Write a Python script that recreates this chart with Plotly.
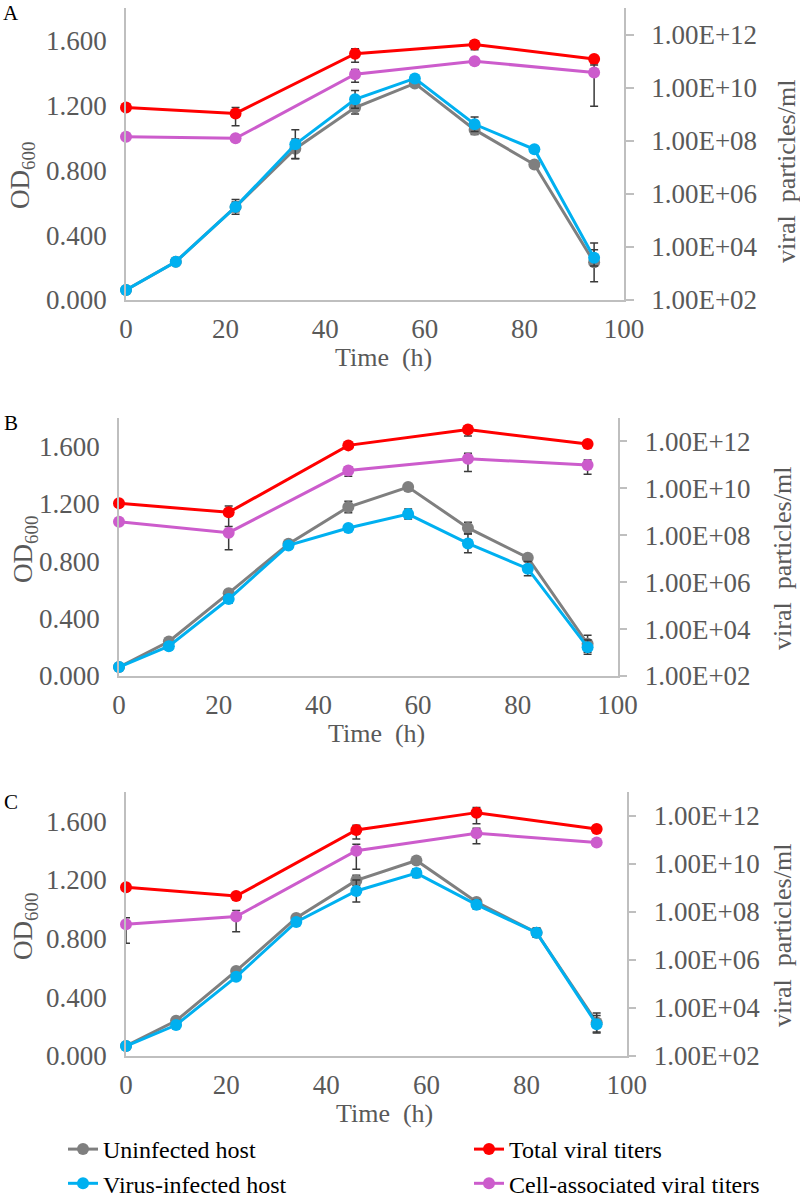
import plotly.graph_objects as go

W, H = 800, 1200
FONT = "Liberation Serif"
GREY_TXT = "#595959"
AXIS_LINE = "#bfbfbf"

# sampling times (h)
time_od = [0, 10, 22, 34, 46, 58, 70, 82, 94]
time_titer = [0, 22, 46, 70, 94]

# ---- panel A ----
a_uninfected = [0.062, 0.236, 0.574, 0.933, 1.186, 1.335, 1.050, 0.835, 0.232]
a_uninfected_sd = [0.005, 0.010, 0.030, 0.060, 0.040, 0.015, 0.030, 0.020, 0.120]
a_infected = [0.062, 0.236, 0.574, 0.960, 1.237, 1.366, 1.083, 0.929, 0.260]
a_infected_sd = [0.005, 0.010, 0.045, 0.090, 0.055, 0.015, 0.045, 0.010, 0.050]
a_total = [1.8e9, 1.07e9, 1.9e11, 4.2e11, 1.2e11]
a_total_sd = [1e8, 7e8, 1e11, 1.5e11, 2e10]
a_cell = [1.4e8, 1.23e8, 3.2e10, 9.9e10, 3.7e10]
a_cell_sd = [1e7, 1e7, 1.6e10, 2.5e10, 3.5e10]

# ---- panel B ----
b_uninfected = [0.062, 0.241, 0.578, 0.922, 1.179, 1.318, 1.033, 0.825, 0.225]
b_uninfected_sd = [0.005, 0.010, 0.020, 0.020, 0.040, 0.010, 0.040, 0.020, 0.060]
b_infected = [0.062, 0.208, 0.537, 0.911, 1.033, 1.130, 0.925, 0.749, 0.201]
b_infected_sd = [0.005, 0.010, 0.030, 0.020, 0.010, 0.035, 0.065, 0.050, 0.050]
b_total = [2.3e9, 9.5e8, 6.8e11, 3.2e12, 7.8e11]
b_total_sd = [1e8, 8e8, 1e11, 1.5e12, 1e11]
b_cell = [3.8e8, 1.29e8, 5.75e10, 1.82e11, 1.0e11]
b_cell_sd = [1e7, 1.05e8, 2.5e10, 1.3e11, 6e10]

# ---- panel C ----
c_uninfected = [0.068, 0.240, 0.580, 0.941, 1.197, 1.333, 1.050, 0.841, 0.229]
c_uninfected_sd = [0.005, 0.010, 0.020, 0.020, 0.035, 0.010, 0.020, 0.030, 0.065]
c_infected = [0.068, 0.211, 0.540, 0.914, 1.125, 1.247, 1.032, 0.841, 0.216]
c_infected_sd = [0.005, 0.010, 0.020, 0.020, 0.075, 0.030, 0.030, 0.030, 0.060]
c_total = [1.07e9, 4.6e8, 2.6e11, 1.38e12, 2.9e11]
c_total_sd = [5e7, 3e7, 1.5e11, 9e11, 3e10]
c_cell = [3.1e7, 6.5e7, 3.6e10, 1.9e11, 7.9e10]
c_cell_sd = [2.6e7, 5e7, 3e10, 1.2e11, 2e10]

# axis ticks
od_ticks = [0, 0.4, 0.8, 1.2, 1.6]
titer_ticks = [1e2, 1e4, 1e6, 1e8, 1e10, 1e12]
titer_labels = ["1.00E+02", "1.00E+04", "1.00E+06", "1.00E+08", "1.00E+10", "1.00E+12"]
time_ticks = [0, 20, 40, 60, 80, 100]

series_names = ["Uninfected host", "Virus-infected host", "Total viral titers",
                "Cell-associated viral titers"]
series_colors = ["#7f7f7f", "#00b0f0", "#ff0000", "#cc5ccc"]

# plot areas in page pixels: left, right, top, bottom (+ label positions)
panels = [
    dict(letter="A", box=(126, 624, 8, 300), od_lbl=(22, 176), vp_lbl=(787, 172), letter_y=13,
         data=[(a_uninfected, a_uninfected_sd), (a_infected, a_infected_sd),
               (a_total, a_total_sd), (a_cell, a_cell_sd)]),
    dict(letter="B", box=(119, 617.5, 418, 676), od_lbl=(25, 550), vp_lbl=(782, 559), letter_y=423,
         data=[(b_uninfected, b_uninfected_sd), (b_infected, b_infected_sd),
               (b_total, b_total_sd), (b_cell, b_cell_sd)]),
    dict(letter="C", box=(126, 626.7, 792, 1056), od_lbl=(25, 927), vp_lbl=(782, 936), letter_y=802,
         data=[(c_uninfected, c_uninfected_sd), (c_infected, c_infected_sd),
               (c_total, c_total_sd), (c_cell, c_cell_sd)]),
]


def fx(x):
    return x / W


def fy(y):
    return 1 - y / H


def label(text, x, y, size, color=GREY_TXT, angle=0):
    return dict(text=text, x=fx(x), y=fy(y), xref="paper", yref="paper",
                xanchor="center", yanchor="middle", showarrow=False, textangle=angle,
                font=dict(family=FONT, size=size, color=color))


fig = go.Figure()
layout = dict(
    width=W, height=H,
    margin=dict(l=0, r=0, t=0, b=0, autoexpand=False),
    paper_bgcolor="white", plot_bgcolor="white",
    font=dict(family=FONT, size=27, color=GREY_TXT),
    annotations=[],
)

tickfont = dict(family=FONT, size=27, color=GREY_TXT)

for i, p in enumerate(panels):
    n = i + 1
    xa = "x" if n == 1 else f"x{n}"
    yl_n = 2 * i + 1
    yr_n = 2 * i + 2
    yl = "y" if yl_n == 1 else f"y{yl_n}"
    yr = f"y{yr_n}"
    left, right, top, bottom = p["box"]

    layout["xaxis" if n == 1 else f"xaxis{n}"] = dict(
        domain=[fx(left), fx(right)], anchor=yl, range=[0, 100], tickvals=time_ticks,
        showline=True, linecolor=AXIS_LINE, linewidth=1.5, showgrid=False, zeroline=False,
        ticks="", tickfont=tickfont, ticklabelstandoff=4, automargin=False)
    layout["yaxis" if yl_n == 1 else f"yaxis{yl_n}"] = dict(
        domain=[fy(bottom), fy(top)], anchor=xa, range=[0, 1.8], tickvals=od_ticks,
        tickformat=".3f", showline=True, linecolor=AXIS_LINE, linewidth=1.5,
        showgrid=False, zeroline=False, ticks="", tickfont=tickfont, ticklabelstandoff=12,
        automargin=False)
    layout[f"yaxis{yr_n}"] = dict(
        overlaying=yl, side="right", anchor=xa, type="log", range=[2, 13],
        tickvals=titer_ticks, ticktext=titer_labels, showline=True, linecolor=AXIS_LINE,
        linewidth=1.5, showgrid=False, zeroline=False, ticks="outside", ticklen=8,
        tickcolor=AXIS_LINE, tickwidth=1.5, tickfont=tickfont, ticklabelstandoff=12,
        automargin=False)

    for k, (vals, sd) in enumerate(p["data"]):
        is_od = k < 2
        fig.add_trace(go.Scatter(
            x=time_od if is_od else time_titer, y=vals,
            mode="lines+markers", name=series_names[k], legendgroup=series_names[k],
            line=dict(color=series_colors[k], width=3),
            marker=dict(color=series_colors[k], size=12),
            error_y=dict(type="data", array=sd, color="#3a3a3a", thickness=1.5, width=4),
            xaxis=xa, yaxis=yl if is_od else yr, cliponaxis=False,
            showlegend=(n == 1), legend="legend" if is_od else "legend2",
        ))

    # panel letter and axis titles
    layout["annotations"] += [
        label(p["letter"], 11, p["letter_y"], 21, color="black"),
        label("Time\u00a0 (h)", (left + right) / 2 + 8, bottom + 57, 26),
        label("OD<sub>600</sub>", p["od_lbl"][0], p["od_lbl"][1], 27, angle=-90),
        label("viral\u00a0 particles/ml", p["vp_lbl"][0], p["vp_lbl"][1], 26, angle=-90),
    ]

legend_common = dict(xanchor="left", yanchor="top", bgcolor="rgba(0,0,0,0)",
                     font=dict(family=FONT, size=24, color="black"),
                     traceorder="grouped", tracegroupgap=0)
layout["legend"] = dict(x=fx(63), y=fy(1127), **legend_common)
layout["legend2"] = dict(x=fx(469), y=fy(1127), **legend_common)

fig.update_layout(layout)
# drop the default 8px body margin so the figure fills the 800x1200 page
fig.write_html("out.html", config={"displayModeBar": False},
               post_script="document.body.style.margin = '0px';")
